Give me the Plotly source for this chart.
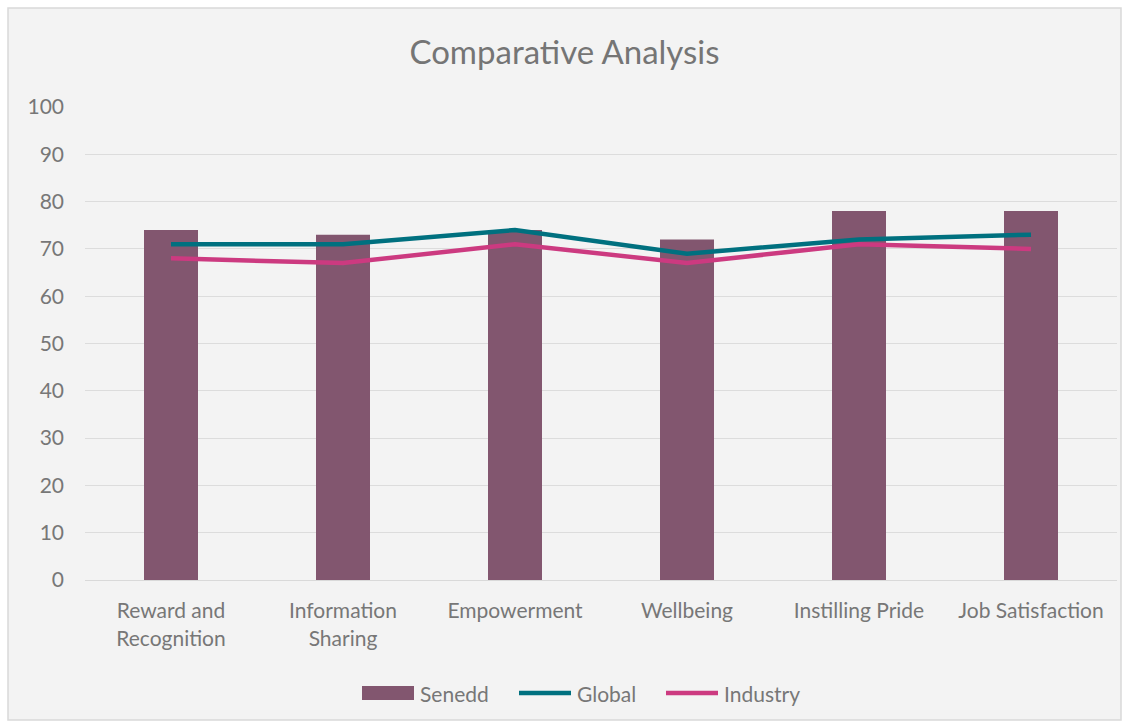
import plotly.graph_objects as go

categories = ["Reward and<br>Recognition", "Information<br>Sharing", "Empowerment",
              "Wellbeing", "Instilling Pride", "Job Satisfaction"]
senedd = [74, 73, 74, 72, 78, 78]
global_vals = [71, 71, 74, 69, 72, 73]
industry = [68, 67, 71, 67, 71, 70]
y_ticks = [0, 10, 20, 30, 40, 50, 60, 70, 80, 90, 100]

FONT = "Lato, 'Open Sans', sans-serif"
TXT = "#777777"
C_SEN, C_GLO, C_IND = "#82566f", "#00707f", "#cc3a80"

fig = go.Figure()
fig.add_trace(go.Bar(x=categories, y=senedd, name="Senedd", showlegend=False,
                     marker=dict(color=C_SEN, line=dict(width=0))))
fig.add_trace(go.Scatter(x=categories, y=global_vals, name="Global", mode="lines",
                         showlegend=False, line=dict(color=C_GLO, width=4.5)))
fig.add_trace(go.Scatter(x=categories, y=industry, name="Industry", mode="lines",
                         showlegend=False, line=dict(color=C_IND, width=4.5)))

L, R, T, B = 85, 12, 107, 148
W, H = 1129, 728
pw, ph = W - L - R, H - T - B


def px(x):
    return (x - L) / pw


def py(y):
    return (H - B - y) / ph


fig.add_shape(type="rect", xref="paper", yref="paper", x0=px(8), x1=px(1121),
              y0=py(720), y1=py(8),
              fillcolor="#f3f3f3", line=dict(color="#d9d9d9", width=1.5), layer="below")

# manual legend
ly = py(693)
fig.add_shape(type="rect", xref="paper", yref="paper", x0=px(362), x1=px(414),
              y0=py(700), y1=py(686), fillcolor=C_SEN, line=dict(width=0))
fig.add_shape(type="line", xref="paper", yref="paper", x0=px(519), x1=px(571),
              y0=ly, y1=ly, line=dict(color=C_GLO, width=4.5))
fig.add_shape(type="line", xref="paper", yref="paper", x0=px(666), x1=px(718),
              y0=ly, y1=ly, line=dict(color=C_IND, width=4.5))
for name, xx in [("Senedd", 418), ("Global", 575), ("Industry", 722)]:
    fig.add_annotation(text=name, xref="paper", yref="paper", x=px(xx), y=ly,
                       xanchor="left", yanchor="middle", showarrow=False,
                       font=dict(size=21, color=TXT, family=FONT))

fig.update_layout(
    width=W, height=H,
    margin=dict(l=L, r=R, t=T, b=B),
    paper_bgcolor="white", plot_bgcolor="rgba(0,0,0,0)",
    font=dict(family=FONT, color=TXT, size=21),
    title=dict(text="Comparative Analysis", x=0.5, xanchor="center", y=1 - 52 / H,
               yanchor="middle", font=dict(size=33, color="#757575", family=FONT)),
    bargap=0.686,
    showlegend=False,
    xaxis=dict(showgrid=False, showline=True, linecolor="#d9d9d9", linewidth=1,
               ticks="", tickfont=dict(size=21, color=TXT), ticklabelstandoff=12),
    yaxis=dict(range=[0, 100], tickvals=y_ticks, showgrid=True, gridcolor="#dcdcdc",
               gridwidth=1, zeroline=False, showline=False, ticks="",
               tickfont=dict(size=21, color=TXT), ticklabelstandoff=20),
)

fig.write_html("out.html", config={"displayModeBar": False},
               post_script="document.body.style.margin='0';")
